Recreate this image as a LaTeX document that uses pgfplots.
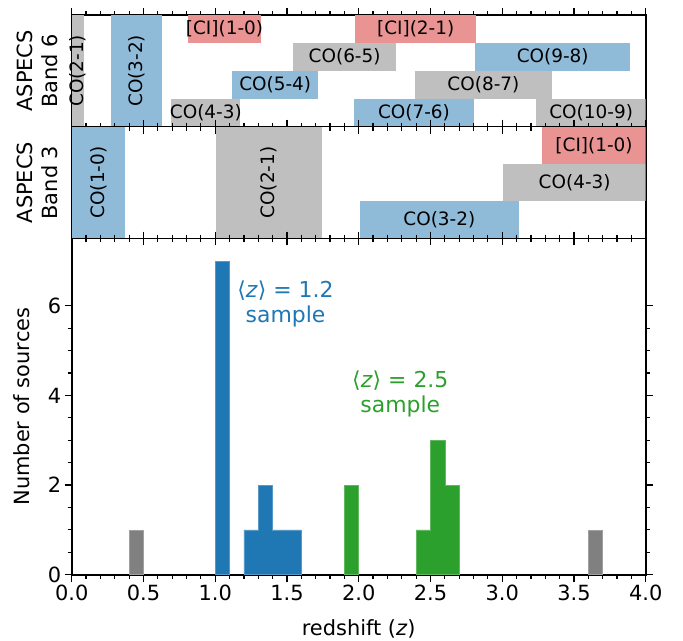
\documentclass[border=0pt]{standalone}
\usepackage{fontspec}
\setmainfont{DejaVu Sans}
\usepackage{pgfplots}
\pgfplotsset{compat=1.18}
\definecolor{cA}{HTML}{1F77B4}
\definecolor{cG}{HTML}{2CA02C}
\definecolor{cK}{HTML}{808080}
\definecolor{lB}{HTML}{8FBBD9}
\definecolor{lK}{HTML}{BFBFBF}
\definecolor{lR}{HTML}{EA9393}
\newcommand\boxfont{\fontsize{18.5}{22}\selectfont}
\newcommand\lblfont{\fontsize{21}{25}\selectfont}
\newcommand\annfont{\fontsize{22}{25}\selectfont}
\pgfplotsset{
  common/.style={
    scale only axis, width=574bp, xmin=0, xmax=4,
    xtick={0,0.5,1,1.5,2,2.5,3,3.5,4}, minor x tick num=4,
    tick align=outside, major tick length=7bp, minor tick length=4bp,
    axis line style={line width=1.6bp},
    every tick/.style={black, line width=1.4bp},
    every minor tick/.style={black, line width=1.2bp},
    tick label style={font=\lblfont},
    label style={font=\lblfont},
    /pgf/number format/assume math mode=true,
    xticklabel style={/pgf/number format/.cd, fixed, fixed zerofill, precision=1},
    clip mode=individual,
    anchor=south west,
  },
  bx/.style={draw=none, fill=#1},
  hb/.style={draw=#1!75!white, line width=0.5bp, fill=#1},
}
\begin{document}
\begin{tikzpicture}
\path[use as bounding box] (0,0) rectangle (683bp,641bp);
% ---------------- Band 6
\begin{axis}[common, at={(71.7bp,514.3bp)}, height=111.7bp, ymin=0, ymax=4,
  ytick=\empty, xticklabels=\empty,
  ylabel={ASPECS\\Band 6},
  ylabel style={align=center, at={(axis description cs:-0.059,0.5)}, anchor=center}]
\addplot[bx=lK] coordinates {(0,0) (0.0875,0) (0.0875,4) (0,4)} -- cycle;
\addplot[bx=lB] coordinates {(0.271,0) (0.631,0) (0.631,4) (0.271,4)} -- cycle;
\addplot[bx=lR] coordinates {(0.809,3) (1.3215,3) (1.3215,4) (0.809,4)} -- cycle;
\addplot[bx=lR] coordinates {(1.9755,3) (2.8177,3) (2.8177,4) (1.9755,4)} -- cycle;
\addplot[bx=lK] coordinates {(1.5422,2) (2.2617,2) (2.2617,3) (1.5422,3)} -- cycle;
\addplot[bx=lB] coordinates {(2.812,2) (3.891,2) (3.891,3) (2.812,3)} -- cycle;
\addplot[bx=lB] coordinates {(1.1186,1) (1.7183,1) (1.7183,2) (1.1186,2)} -- cycle;
\addplot[bx=lK] coordinates {(2.389,1) (3.348,1) (3.348,2) (2.389,2)} -- cycle;
\addplot[bx=lK] coordinates {(0.695,0) (1.1747,0) (1.1747,1) (0.695,1)} -- cycle;
\addplot[bx=lB] coordinates {(1.9656,0) (2.805,0) (2.805,1) (1.9656,1)} -- cycle;
\addplot[bx=lK] coordinates {(3.235,0) (4.434,0) (4.434,1) (3.235,1)} -- cycle;
\node[font=\boxfont, rotate=90] at (axis cs:0.044,2) {CO(2-1)};
\node[font=\boxfont, rotate=90] at (axis cs:0.451,2) {CO(3-2)};
\node[font=\boxfont] at (axis cs:1.065,3.5) {[CI](1-0)};
\node[font=\boxfont] at (axis cs:2.397,3.5) {[CI](2-1)};
\node[font=\boxfont] at (axis cs:1.902,2.5) {CO(6-5)};
\node[font=\boxfont] at (axis cs:3.352,2.5) {CO(9-8)};
\node[font=\boxfont] at (axis cs:1.418,1.5) {CO(5-4)};
\node[font=\boxfont] at (axis cs:2.869,1.5) {CO(8-7)};
\node[font=\boxfont] at (axis cs:0.935,0.5) {CO(4-3)};
\node[font=\boxfont] at (axis cs:2.385,0.5) {CO(7-6)};
\node[font=\boxfont] at (axis cs:3.62,0.5) {CO(10-9)};
\end{axis}
% ---------------- Band 3
\begin{axis}[common, at={(71.7bp,402.5bp)}, height=111.8bp, ymin=0, ymax=3,
  ytick=\empty, xticklabels=\empty,
  ylabel={ASPECS\\Band 3},
  ylabel style={align=center, at={(axis description cs:-0.059,0.5)}, anchor=center}]
\addplot[bx=lB] coordinates {(0,0) (0.3723,0) (0.3723,3) (0,3)} -- cycle;
\addplot[bx=lK] coordinates {(1.0047,0) (1.7445,0) (1.7445,3) (1.0047,3)} -- cycle;
\addplot[bx=lB] coordinates {(2.007,0) (3.1166,0) (3.1166,1) (2.007,1)} -- cycle;
\addplot[bx=lK] coordinates {(3.009,1) (4.489,1) (4.489,2) (3.009,2)} -- cycle;
\addplot[bx=lR] coordinates {(3.28,2) (4.859,2) (4.859,3) (3.28,3)} -- cycle;
\node[font=\boxfont, rotate=90] at (axis cs:0.186,1.5) {CO(1-0)};
\node[font=\boxfont, rotate=90] at (axis cs:1.375,1.5) {CO(2-1)};
\node[font=\boxfont] at (axis cs:2.562,0.5) {CO(3-2)};
\node[font=\boxfont] at (axis cs:3.505,1.5) {CO(4-3)};
\node[font=\boxfont] at (axis cs:3.64,2.5) {[CI](1-0)};
\end{axis}
% ---------------- Histogram
\begin{axis}[common, at={(71.7bp,66.3bp)}, height=336.2bp, ymin=0, ymax=7.5,
  ytick={0,2,4,6}, minor y tick num=3,
  xlabel={redshift (\textit{z})},
  xlabel style={at={(axis description cs:0.5,-0.1615)}, anchor=center},
  ylabel={Number of sources},
  ylabel style={at={(axis description cs:-0.0866,0.5)}, anchor=center}]
\addplot[hb=cK] coordinates {(0.4,0) (0.5,0) (0.5,1) (0.4,1)} -- cycle;
\addplot[hb=cK] coordinates {(3.6,0) (3.7,0) (3.7,1) (3.6,1)} -- cycle;
\addplot[hb=cA] coordinates {(1.0,0) (1.1,0) (1.1,7) (1.0,7)} -- cycle;
\addplot[hb=cA] coordinates {(1.2,0) (1.6,0) (1.6,1) (1.4,1) (1.4,2) (1.3,2) (1.3,1) (1.2,1)} -- cycle;
\addplot[hb=cG] coordinates {(1.9,0) (2.0,0) (2.0,2) (1.9,2)} -- cycle;
\addplot[hb=cG] coordinates {(2.4,0) (2.7,0) (2.7,2) (2.6,2) (2.6,3) (2.5,3) (2.5,1) (2.4,1)} -- cycle;
\node[font=\annfont, text=cA, align=center] at (axis cs:1.49,6.03) {⟨\textit{z}⟩ = 1.2\\sample};
\node[font=\annfont, text=cG, align=center] at (axis cs:2.29,4.03) {⟨\textit{z}⟩ = 2.5\\sample};
\end{axis}
\end{tikzpicture}
\end{document}
